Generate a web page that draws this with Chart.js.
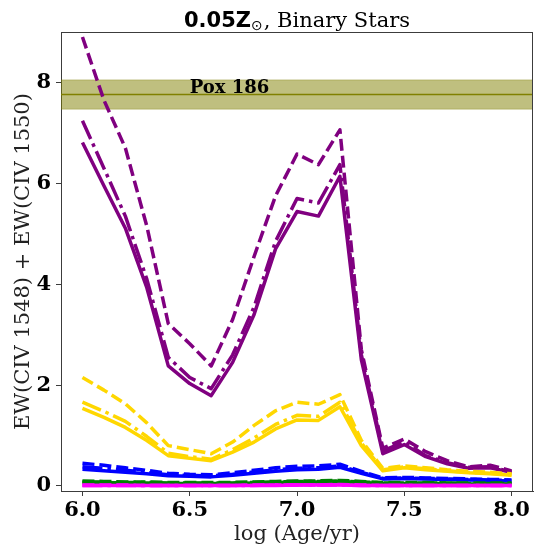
<!DOCTYPE html>
<html>
<head>
<meta charset="utf-8">
<script src="https://cdn.jsdelivr.net/npm/chart.js@4/dist/chart.umd.min.js"></script>
<style>
html,body{margin:0;padding:0;background:#fff;}
#wrap{width:543px;height:547px;position:relative;}
</style>
</head>
<body>
<div id="wrap"><canvas id="c" width="543" height="547"></canvas></div>
<script>
// ---- data ----
const logAge = [6.0,6.1,6.2,6.3,6.4,6.5,6.6,6.7,6.8,6.9,7.0,7.1,7.2,7.3,7.4,7.5,7.6,7.7,7.8,7.9,8.0];

const purpleSolid   = [6.81,5.95,5.11,3.93,2.38,2.03,1.79,2.45,3.40,4.70,5.44,5.35,6.14,2.50,0.64,0.82,0.58,0.44,0.35,0.36,0.27];
const purpleDashDot = [7.24,6.30,5.35,4.10,2.55,2.15,1.93,2.60,3.55,4.85,5.70,5.61,6.37,2.60,0.70,0.87,0.60,0.46,0.37,0.38,0.28];
const purpleDashed  = [8.90,7.65,6.70,5.15,3.22,2.82,2.38,3.30,4.55,5.75,6.58,6.37,7.06,2.70,0.75,0.93,0.68,0.50,0.38,0.41,0.30];

const goldSolid   = [1.54,1.36,1.16,0.90,0.60,0.55,0.50,0.67,0.87,1.13,1.31,1.30,1.57,0.80,0.30,0.36,0.32,0.29,0.26,0.24,0.21];
const goldDashDot = [1.66,1.48,1.28,0.98,0.65,0.58,0.53,0.72,0.95,1.22,1.40,1.38,1.66,0.85,0.32,0.38,0.34,0.30,0.27,0.25,0.22];
const goldDashed  = [2.15,1.90,1.63,1.25,0.80,0.72,0.64,0.87,1.20,1.49,1.66,1.62,1.81,0.90,0.35,0.40,0.36,0.32,0.29,0.27,0.24];

const blueSolid   = [0.33,0.30,0.27,0.24,0.20,0.19,0.18,0.21,0.25,0.29,0.32,0.33,0.37,0.25,0.14,0.15,0.14,0.13,0.12,0.11,0.10];
const blueDashDot = [0.38,0.35,0.31,0.27,0.22,0.21,0.20,0.23,0.28,0.32,0.35,0.36,0.40,0.27,0.15,0.16,0.15,0.14,0.13,0.12,0.11];
const blueDashed  = [0.45,0.41,0.36,0.31,0.25,0.23,0.22,0.26,0.31,0.36,0.39,0.40,0.43,0.29,0.16,0.17,0.16,0.15,0.14,0.13,0.12];

const greenSolid   = [0.07,0.07,0.06,0.06,0.05,0.05,0.05,0.05,0.06,0.07,0.08,0.08,0.09,0.07,0.05,0.05,0.05,0.05,0.04,0.04,0.04];
const greenDashDot = [0.08,0.08,0.07,0.07,0.06,0.06,0.06,0.06,0.07,0.08,0.09,0.09,0.10,0.08,0.06,0.06,0.06,0.06,0.05,0.05,0.05];
const greenDashed  = [0.10,0.09,0.08,0.08,0.07,0.07,0.07,0.07,0.08,0.09,0.10,0.10,0.11,0.09,0.07,0.07,0.07,0.06,0.06,0.06,0.06];

const magentaSolid   = [0.01,0.01,0.01,0.01,0.01,0.01,0.01,0.01,0.01,0.01,0.02,0.02,0.02,0.01,0.01,0.01,0.01,0.01,0.01,0.01,0.01];
const magentaDashDot = [0.01,0.01,0.01,0.01,0.01,0.01,0.01,0.01,0.01,0.02,0.02,0.02,0.02,0.01,0.01,0.01,0.01,0.01,0.01,0.01,0.01];
const magentaDashed  = [0.02,0.02,0.02,0.01,0.01,0.01,0.01,0.01,0.02,0.02,0.02,0.02,0.03,0.02,0.01,0.01,0.01,0.01,0.01,0.01,0.01];

const xTicks = [6.0,6.5,7.0,7.5,8.0];
const yTicks = [0,2,4,6,8];

const poxLabel = 'Pox 186';
const poxValue = 7.76;
const poxErr = 0.29;
const poxLabelX = 6.5;

const titleBold = '0.05Z';
const titleSub = '\u2299';
const titleRest = ', Binary Stars';
const xTitle = 'log (Age/yr)';
const yTitle = 'EW(CIV 1548) + EW(CIV 1550)';

// ---- styles ----
const LW = 3.5;
const DASHED = [12, 5];
const DASHDOT = [20, 5, 3.5, 5];
const colors = {purple:'#800080', gold:'#FFD700', blue:'#0000FF', green:'#008000', magenta:'#FF00FF'};

function ds(values, color, dash) {
  return {
    data: logAge.map((x,i)=>({x:x, y:values[i]})),
    borderColor: color,
    backgroundColor: color,
    borderWidth: LW,
    borderDash: dash,
    borderCapStyle: 'butt',
    borderJoinStyle: 'round',
    pointRadius: 0,
    fill: false,
    tension: 0
  };
}

const datasets = [
  ds(magentaSolid, colors.magenta, []),
  ds(magentaDashDot, colors.magenta, DASHDOT),
  ds(magentaDashed, colors.magenta, DASHED),
  ds(greenSolid, colors.green, []),
  ds(greenDashDot, colors.green, DASHDOT),
  ds(greenDashed, colors.green, DASHED),
  ds(blueSolid, colors.blue, []),
  ds(blueDashDot, colors.blue, DASHDOT),
  ds(blueDashed, colors.blue, DASHED),
  ds(goldSolid, colors.gold, []),
  ds(goldDashDot, colors.gold, DASHDOT),
  ds(goldDashed, colors.gold, DASHED),
  ds(purpleSolid, colors.purple, []),
  ds(purpleDashDot, colors.purple, DASHDOT),
  ds(purpleDashed, colors.purple, DASHED),
];

const FRAME = '#3c3c3c';
const TICKFONT = {family:'DejaVu Serif', size:21, weight:'bold'};

const bandPlugin = {
  id:'band',
  beforeDatasetsDraw(chart){
    const {ctx, chartArea:a, scales:{y, x}} = chart;
    const y1 = y.getPixelForValue(poxValue + poxErr);
    const y2 = y.getPixelForValue(poxValue - poxErr);
    const yc = y.getPixelForValue(poxValue);
    ctx.save();
    ctx.beginPath(); ctx.rect(a.left, a.top, a.right-a.left, a.bottom-a.top); ctx.clip();
    ctx.fillStyle = 'rgba(128,128,0,0.5)';
    ctx.fillRect(a.left, y1, a.right-a.left, y2-y1);
    ctx.strokeStyle = 'rgba(128,128,0,0.35)';
    ctx.lineWidth = 1;
    ctx.beginPath(); ctx.moveTo(a.left,y1); ctx.lineTo(a.right,y1); ctx.moveTo(a.left,y2); ctx.lineTo(a.right,y2); ctx.stroke();
    ctx.strokeStyle = '#808000';
    ctx.lineWidth = 1.5;
    ctx.beginPath(); ctx.moveTo(a.left,yc); ctx.lineTo(a.right,yc); ctx.stroke();
    ctx.fillStyle = '#000';
    ctx.font = 'bold 18px "DejaVu Serif"';
    ctx.textAlign = 'left';
    ctx.textBaseline = 'alphabetic';
    ctx.fillText(poxLabel, x.getPixelForValue(poxLabelX), yc - 2);
    ctx.restore();
  }
};

const decorPlugin = {
  id:'decor',
  afterDraw(chart){
    const {ctx, chartArea:a} = chart;
    ctx.save();
    ctx.strokeStyle = FRAME; ctx.lineWidth = 1;
    ctx.beginPath();
    ctx.moveTo(a.left, a.top+0.5); ctx.lineTo(a.right, a.top+0.5);
    ctx.moveTo(a.right-0.5, a.top); ctx.lineTo(a.right-0.5, a.bottom);
    ctx.stroke();
    // title
    const fb = 'bold 21px "DejaVu Sans"';
    const fs = '14px "DejaVu Sans"';
    const fr = '21px "DejaVu Serif"';
    ctx.font = fb; const w1 = ctx.measureText(titleBold).width;
    ctx.font = fs; const w2 = ctx.measureText(titleSub).width;
    ctx.font = fr; const w3 = ctx.measureText(titleRest).width;
    const total = w1 + w2 + 1 + w3;
    let tx = (a.left + a.right)/2 - total/2;
    const ty = 27;
    ctx.fillStyle = '#000'; ctx.textAlign='left'; ctx.textBaseline='alphabetic';
    ctx.font = fb; ctx.fillText(titleBold, tx, ty); tx += w1;
    ctx.font = fs; ctx.fillText(titleSub, tx, ty + 3); tx += w2 + 1;
    ctx.font = fr; ctx.fillText(titleRest, tx, ty);
    // x title
    ctx.font = '21px "DejaVu Serif"';
    ctx.fillStyle = '#222';
    ctx.textAlign = 'center';
    ctx.fillText(xTitle, (a.left + a.right)/2, 540);
    // y title
    ctx.save();
    ctx.translate(29, (a.top + a.bottom)/2);
    ctx.rotate(-Math.PI/2);
    ctx.textAlign = 'center';
    ctx.fillText(yTitle, 0, 0);
    ctx.restore();
    ctx.restore();
  }
};

new Chart(document.getElementById('c'), {
  type:'line',
  data:{datasets},
  plugins:[bandPlugin, decorPlugin],
  options:{
    responsive:false,
    animation:false,
    devicePixelRatio:1,
    layout:{padding:{top:32, right:10, left:0, bottom:0}},
    plugins:{legend:{display:false}, title:{display:false}, tooltip:{enabled:false}},
    scales:{
      x:{
        type:'linear', min:5.9, max:8.1,
        afterBuildTicks(s){ s.ticks = xTicks.map(v=>({value:v})); },
        afterFit(s){ s.height = 56; },
        ticks:{font:TICKFONT, color:'#000', padding:2, maxRotation:0, autoSkip:false,
               callback:(v)=>Number(v).toFixed(1)},
        grid:{display:true, drawOnChartArea:false, drawTicks:true, tickLength:5, color:FRAME},
        border:{display:true, color:FRAME, width:1}
      },
      y:{
        type:'linear', min:-0.1, max:9.0,
        afterBuildTicks(s){ s.ticks = yTicks.map(v=>({value:v})); },
        afterFit(s){ s.width = 61; },
        ticks:{font:TICKFONT, color:'#000', padding:5, autoSkip:false,
               callback:(v)=>String(v)},
        grid:{display:true, drawOnChartArea:false, drawTicks:true, tickLength:5, color:FRAME},
        border:{display:true, color:FRAME, width:1}
      }
    }
  }
});
</script>
</body>
</html>
